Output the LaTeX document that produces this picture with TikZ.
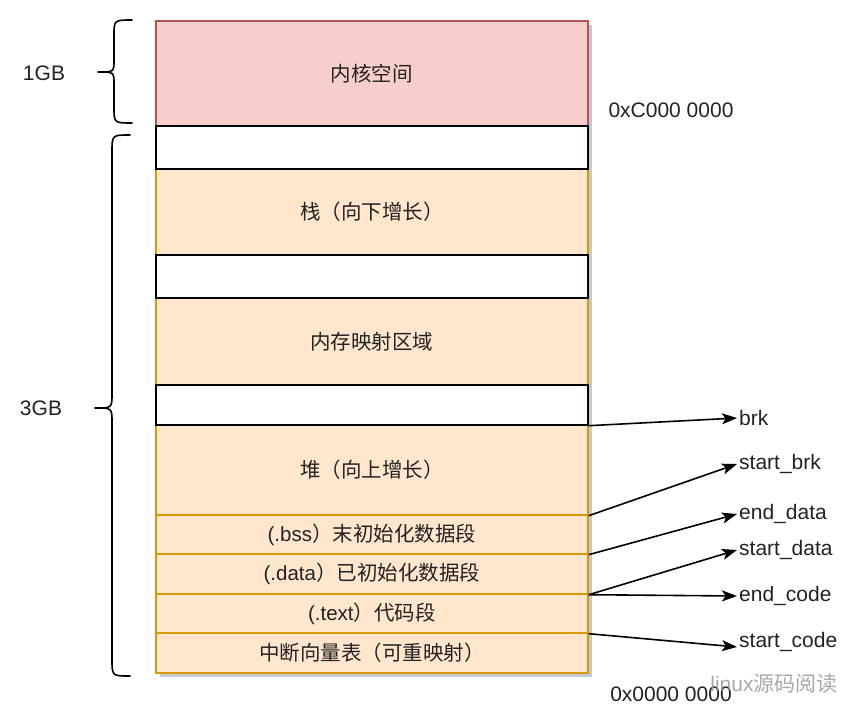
\documentclass[tikz,border=0pt]{standalone}
\usepackage{fontspec}
\setmainfont{Liberation Sans}
\newfontfamily\cjkf{Noto Sans CJK SC}
\usetikzlibrary{arrows.meta}
\definecolor{pinkfill}{HTML}{F8CECC}
\definecolor{pinkline}{HTML}{B85450}
\definecolor{orfill}{HTML}{FFE6CC}
\definecolor{orline}{HTML}{D79B00}
\definecolor{shadowc}{HTML}{B4BBCB}
\definecolor{txt}{HTML}{222222}
\begin{document}
\begin{tikzpicture}[x=1pt,y=-1pt,
  seg/.style={draw=orline, fill=orfill, line width=1.7pt, minimum width=432pt,
    inner sep=0pt, anchor=north west, text=txt, font=\fontsize{20.5}{24}\selectfont},
  kseg/.style={seg, draw=pinkline, fill=pinkfill},
  wseg/.style={seg, draw=black, fill=white},
  lbl/.style={anchor=west, inner sep=2pt, text=txt, font=\fontsize{21}{25}\selectfont},
  addr/.style={inner sep=0pt, text=txt, font=\fontsize{21}{25}\selectfont},
  arr/.style={line width=1.6pt, -{Stealth[length=15pt,width=11pt,inset=3.5pt]}},
  bracepath/.style={line width=1.6pt, line cap=round, line join=round}
]
\useasboundingbox (0,0) rectangle (865,720);
% shadow
\fill[shadowc, opacity=0.8] (160,25) rectangle (592,677);
% column
\node[kseg, minimum height=105pt] (kern) at (155,20) {\cjkf 内核空间};
\node[seg, minimum height=86pt] (stack) at (155,168) {\cjkf 栈（向下增长）};
\node[seg, minimum height=87pt] (mmap) at (155,297) {\cjkf 内存映射区域};
\node[seg, minimum height=90pt] (heap) at (155,424) {\cjkf 堆（向上增长）};
\node[seg, minimum height=39pt] (bss) at (155,514) {(.bss{\cjkf ）末初始化数据段}};
\node[seg, minimum height=40pt] (data) at (155,553) {(.data{\cjkf ）已初始化数据段}};
\node[seg, minimum height=39pt] (text) at (155,593) {(.text{\cjkf ）代码段}};
\node[seg, minimum height=40pt] (ivt) at (155,632) {\cjkf 中断向量表（可重映射）};
\node[wseg, minimum height=43pt] (w1) at (155,125) {};
\node[wseg, minimum height=43pt] (w2) at (155,254) {};
\node[wseg, minimum height=40pt] (w3) at (155,384) {};
% addresses
\node[addr] (top) at (671,110) {0xC000 0000};
\node[addr] (bot) at (671,694) {0x0000 0000};
% watermark
\node[addr, text=black!40, opacity=0.85] (wm) at (774,684) {linux{\cjkf 源码阅读}};
% size labels
\node[addr] (g1) at (44,73) {1GB};
\node[addr] (g3) at (41,408) {3GB};
% braces
\draw[bracepath] (132,20) .. controls (114,20) .. (114,36) -- (114,60)
  .. controls (114,72) .. (98,72) .. controls (114,72) .. (114,84)
  -- (114,107) .. controls (114,123) .. (132,123);
\draw[bracepath] (130,135) .. controls (112,135) .. (112,152) -- (112,394)
  .. controls (112,408) .. (95,408) .. controls (112,408) .. (112,422)
  -- (112,659) .. controls (112,676) .. (130,676);
% pointer labels
\node[lbl] (brk) at (737,418) {brk};
\node[lbl] (sbrk) at (737,464) {start\_brk};
\node[lbl] (edata) at (737,514) {end\_data};
\node[lbl] (sdata) at (737,550) {start\_data};
\node[lbl] (ecode) at (737,596) {end\_code};
\node[lbl] (scode) at (737,642) {start\_code};
% arrows
\draw[arr] (w3.south east) -- (brk.west);
\draw[arr] (heap.south east) -- (sbrk.west);
\draw[arr] (bss.south east) -- (edata.west);
\draw[arr] (data.south east) -- (sdata.west);
\draw[arr] (data.south east) -- (ecode.west);
\draw[arr] (text.south east) -- ([yshift=-5pt]scode.west);
\end{tikzpicture}
\end{document}
